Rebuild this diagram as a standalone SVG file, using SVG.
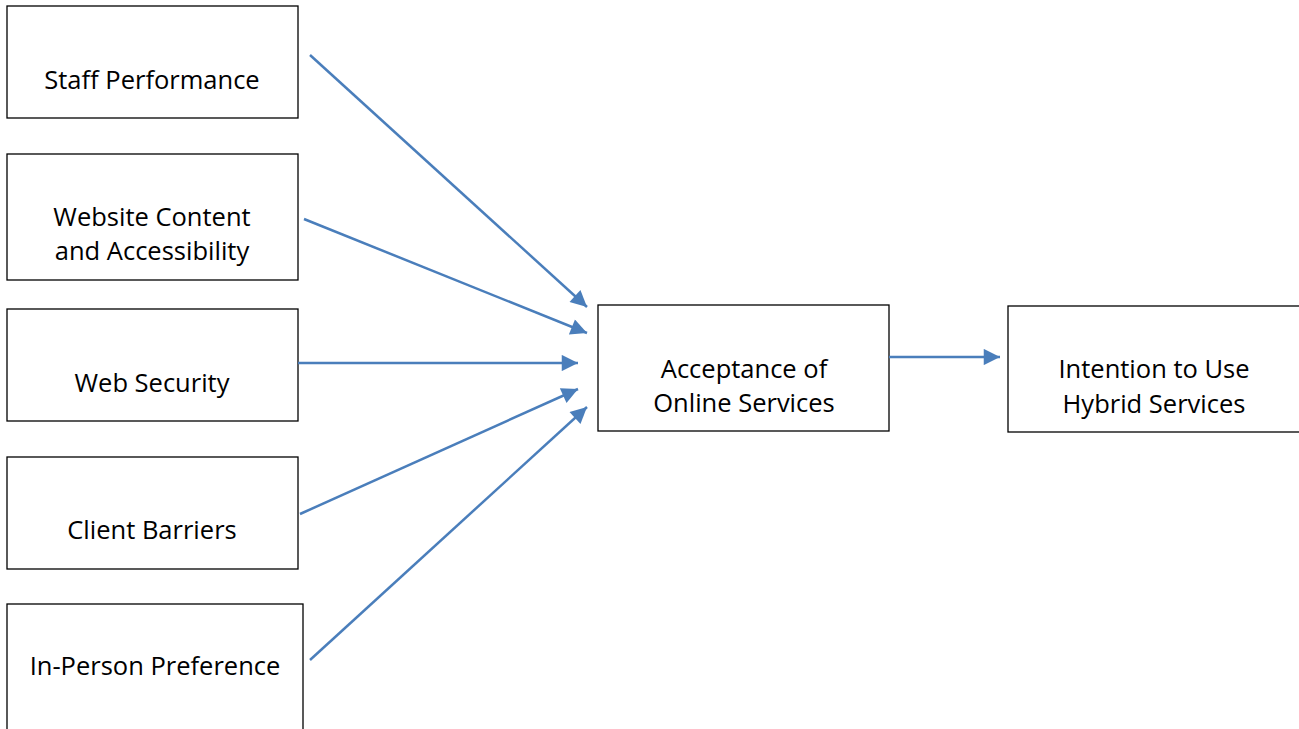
<svg xmlns="http://www.w3.org/2000/svg" width="1299" height="729" viewBox="0 0 1299 729">
<style>
.box{fill:#fff;stroke:#000;stroke-width:1.3}
.lbl{font-family:"Open Sans","Liberation Sans",sans-serif;font-size:25.5px;fill:#000;text-anchor:middle}
.conn{stroke:#4A7EBB;stroke-width:2.5;fill:none;marker-end:url(#ah)}
</style>
<defs>
<marker id="ah" viewBox="0 0 10 10" refX="10" refY="5" markerWidth="7.5" markerHeight="6.5" markerUnits="strokeWidth" orient="auto">
<path d="M0,0 L10,5 L0,10 z" fill="#4A7EBB"/>
</marker>
</defs>
<rect width="1299" height="729" fill="#fff"/>
<g id="staff"><rect class="box" x="7" y="6" width="291" height="112"/><text class="lbl" x="152" y="89">Staff Performance</text></g>
<g id="website"><rect class="box" x="7" y="154" width="291" height="126"/><text class="lbl" x="152" y="226">Website Content</text><text class="lbl" x="152" y="260">and Accessibility</text></g>
<g id="security"><rect class="box" x="7" y="309" width="291" height="112"/><text class="lbl" x="152" y="392">Web Security</text></g>
<g id="barriers"><rect class="box" x="7" y="457" width="291" height="112"/><text class="lbl" x="152" y="539">Client Barriers</text></g>
<g id="inperson"><rect class="box" x="7" y="604" width="296" height="130"/><text class="lbl" x="155" y="675">In-Person Preference</text></g>
<g id="acceptance"><rect class="box" x="598" y="305" width="291" height="126"/><text class="lbl" x="744" y="378">Acceptance of</text><text class="lbl" x="744" y="412">Online Services</text></g>
<g id="intention"><rect class="box" x="1008" y="306" width="295" height="126"/><text class="lbl" x="1154" y="378">Intention to Use</text><text class="lbl" x="1154" y="413">Hybrid Services</text></g>
<g id="connectors">
<line class="conn" x1="310" y1="55" x2="587" y2="307"/>
<line class="conn" x1="304" y1="219" x2="587" y2="333"/>
<line class="conn" x1="298" y1="363" x2="578" y2="363"/>
<line class="conn" x1="300" y1="514" x2="578" y2="389"/>
<line class="conn" x1="310" y1="660" x2="587" y2="407"/>
<line class="conn" x1="889" y1="357" x2="1000" y2="357"/>
</g>
</svg>
